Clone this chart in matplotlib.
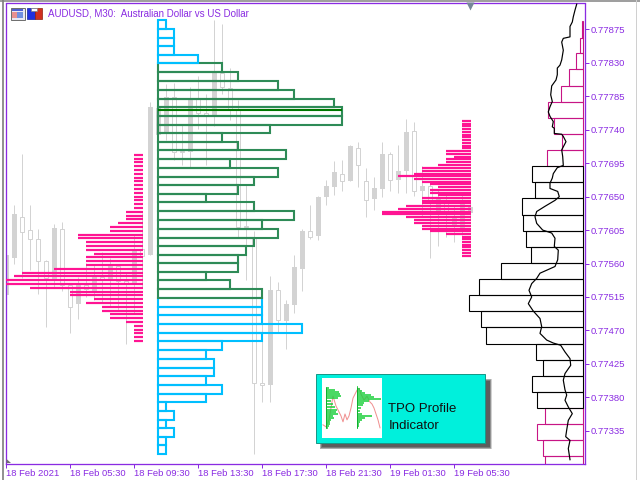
import matplotlib
matplotlib.use("Agg")
import matplotlib.pyplot as plt
from matplotlib.lines import Line2D
from matplotlib.patches import Rectangle, Polygon

W, H = 640, 480
PX = 72 / 100  # one pixel in points at dpi=100

PURPLE = "#8A2BE2"
CANDLE = "#D3D3D3"
PINK = "#FF1493"
BLUE = "#00BFFF"
GREEN = "#2E8B57"
POC = "#007800"
MAGENTA = "#C71585"

# candles, one per 30 minute bar
candle_open = [0.77571, 0.77627, 0.77603, 0.77593, 0.77564, 0.77540, 0.77608, 0.77531, 0.77502, 0.77531,
               0.77526, 0.77542, 0.77539, 0.77557, 0.77536, 0.77533, 0.77577, 0.77570, 0.77770, 0.77769,
               0.77784, 0.77710, 0.77710, 0.77782, 0.77763, 0.77760, 0.77816, 0.77797, 0.77767, 0.77609,
               0.77609, 0.77399, 0.77396, 0.77524, 0.77484, 0.77506, 0.77555, 0.77604, 0.77596, 0.77650,
               0.77664, 0.77683, 0.77671, 0.77718, 0.77693, 0.77646, 0.77661, 0.77707, 0.77672, 0.77684,
               0.77737, 0.77657, 0.77664, 0.77645, 0.77648, 0.77627, 0.77624, 0.77643, 0.77636]
candle_high = [0.77578, 0.77639, 0.77708, 0.77639, 0.77606, 0.77565, 0.77613, 0.77616, 0.77534, 0.77542,
               0.77561, 0.77558, 0.77575, 0.77568, 0.77558, 0.77547, 0.77598, 0.77628, 0.77778, 0.77779,
               0.77802, 0.77803, 0.77746, 0.77797, 0.77812, 0.77788, 0.77888, 0.77882, 0.77823, 0.77780,
               0.77666, 0.77604, 0.77514, 0.77543, 0.77535, 0.77511, 0.77571, 0.77606, 0.77639, 0.77651,
               0.77672, 0.77698, 0.77699, 0.77719, 0.77724, 0.77688, 0.77677, 0.77723, 0.77710, 0.77719,
               0.77754, 0.77751, 0.77691, 0.77668, 0.77659, 0.77652, 0.77639, 0.77652, 0.77641]
candle_low = [0.77511, 0.77560, 0.77540, 0.77551, 0.77519, 0.77475, 0.77528, 0.77523, 0.77467, 0.77485,
              0.77515, 0.77511, 0.77507, 0.77503, 0.77497, 0.77452, 0.77493, 0.77528, 0.77571, 0.77726,
              0.77726, 0.77699, 0.77692, 0.77690, 0.77741, 0.77692, 0.77745, 0.77788, 0.77753, 0.77596,
              0.77538, 0.77304, 0.77373, 0.77374, 0.77468, 0.77445, 0.77494, 0.77523, 0.77593, 0.77592,
              0.77639, 0.77652, 0.77657, 0.77671, 0.77663, 0.77622, 0.77632, 0.77650, 0.77657, 0.77655,
              0.77655, 0.77651, 0.77624, 0.77568, 0.77583, 0.77596, 0.77589, 0.77598, 0.77619]
candle_close = [0.77517, 0.77568, 0.77622, 0.77605, 0.77593, 0.77563, 0.77538, 0.77606, 0.77531, 0.77506,
                0.77531, 0.77522, 0.77542, 0.77539, 0.77556, 0.77536, 0.77531, 0.77579, 0.77571, 0.77733,
                0.77734, 0.77784, 0.77712, 0.77710, 0.77781, 0.77762, 0.77760, 0.77816, 0.77796, 0.77768,
                0.77610, 0.77596, 0.77399, 0.77396, 0.77524, 0.77483, 0.77504, 0.77553, 0.77604, 0.77597,
                0.77649, 0.77663, 0.77681, 0.77671, 0.77716, 0.77671, 0.77647, 0.77660, 0.77708, 0.77672,
                0.77684, 0.77738, 0.77657, 0.77664, 0.77628, 0.77645, 0.77612, 0.77608, 0.77628]

# left pink profile, ends at bar 17
left_levels = [0.77706, 0.77701, 0.77697, 0.77691, 0.77686, 0.77680, 0.77675, 0.77671, 0.77666, 0.77660,
               0.77655, 0.77649, 0.77645, 0.77640, 0.77635, 0.77629, 0.77624, 0.77620, 0.77615, 0.77609,
               0.77604, 0.77598, 0.77594, 0.77589, 0.77584, 0.77578, 0.77573, 0.77569, 0.77563, 0.77558,
               0.77553, 0.77547, 0.77543, 0.77538, 0.77532, 0.77527, 0.77522, 0.77518, 0.77512, 0.77507,
               0.77502, 0.77496, 0.77492, 0.77487, 0.77481, 0.77476, 0.77471, 0.77466, 0.77461, 0.77456]
left_counts = [1, 1, 1, 1, 1, 1, 1, 1, 1, 1, 1, 1, 1, 1, 1, 2, 2, 2, 3, 4, 4, 8, 8, 7, 7,
               7, 6, 7, 7, 7, 11, 15, 16, 17, 17, 14, 9, 9, 6, 7, 5, 5, 4, 4, 2, 1, 1, 1, 1, 1]

# middle outlined profile, starts at bar 19, 51 row edges top to bottom
mid_edges = [0.77888, 0.77875, 0.77864, 0.77853, 0.77841, 0.77830, 0.77818, 0.77806, 0.77794, 0.77782,
             0.77770, 0.77759, 0.77747, 0.77735, 0.77724, 0.77713, 0.77700, 0.77689, 0.77677, 0.77666,
             0.77654, 0.77643, 0.77631, 0.77619, 0.77607, 0.77595, 0.77584, 0.77572, 0.77561, 0.77549,
             0.77538, 0.77526, 0.77514, 0.77502, 0.77491, 0.77479, 0.77467, 0.77456, 0.77444, 0.77432,
             0.77420, 0.77409, 0.77397, 0.77385, 0.77374, 0.77362, 0.77350, 0.77339, 0.77327, 0.77316,
             0.77304]
mid_counts = [1, 2, 2, 2, 5,
              8, 10, 15, 17, 22, 23, 23, 14, 8, 10, 16, 9, 15, 12, 10, 6, 12, 17, 13, 15, 12, 11, 10, 10, 6, 9, 13,
              13, 13, 13, 18, 13, 8, 6, 7, 7, 6, 8, 6, 1, 2, 1, 2, 1, 1]
poc_price = 0.77766

# right pink profile, ends at bar 58
right_levels = [0.77752, 0.77748, 0.77745, 0.77741, 0.77737, 0.77733, 0.77730, 0.77726, 0.77722, 0.77718,
                0.77715, 0.77711, 0.77707, 0.77704, 0.77700, 0.77696, 0.77692, 0.77689, 0.77685, 0.77681,
                0.77678, 0.77674, 0.77670, 0.77667, 0.77663, 0.77659, 0.77655, 0.77652, 0.77648, 0.77644,
                0.77641, 0.77637, 0.77633, 0.77630, 0.77626, 0.77622, 0.77619, 0.77615, 0.77611, 0.77607,
                0.77604, 0.77600, 0.77596, 0.77593, 0.77589, 0.77585, 0.77582, 0.77578, 0.77574, 0.77570]
right_counts = [1, 1, 1, 1, 1, 1, 1, 1, 1, 1, 1, 3, 3, 2, 3, 3, 4, 6, 6, 7, 9, 7, 6, 5, 4,
                5, 5, 4, 6, 6, 6, 8, 9, 11, 11, 8, 7, 7, 6, 6, 5, 3, 1, 1, 1, 1, 1, 1, 1, 1]

# histogram on the right edge
hist_edges = [0.778863, 0.778639, 0.778429, 0.778213, 0.777985, 0.777769, 0.777554, 0.777339, 0.777123,
              0.776908, 0.776693, 0.776477, 0.776249, 0.776033, 0.775818, 0.775603, 0.775387, 0.775172,
              0.774957, 0.774742, 0.774513, 0.774298, 0.774082, 0.773867, 0.773652, 0.773436, 0.773221,
              0.773006, 0.772790]
hist_volume = [1, 3, 7, 14, 22, 35, 29, 21, 36,
               51, 48, 61, 60, 57, 52, 82, 104, 114, 102, 97, 47, 40, 51, 46,
               38, 46, 40, 38]

curve_volume = [6.6, 8.3, 10, 11, 13.3, 13.3, 20, 21.6, 20, 21.6, 23.3, 26, 26, 27.3, 31.6, 32.6, 31, 33.3, 35, 33.3,
                30, 31, 29, 29, 21.6, 20, 17.3, 20, 21.6, 20.6, 20, 26, 30, 31, 33.3, 33.3, 25.6, 24, 28.3, 38.3,
                46.6, 48.3, 46.6, 40.6, 31.6, 28.3, 29, 25, 25.6, 28.3, 36.6, 43.3, 46.6, 51.6, 54.3, 51.6, 55, 50,
                43.3, 41.6, 43.3, 36.6, 30, 22.6, 18.3, 13.3, 12.6, 18.3, 20, 18.3, 16.6, 18.3, 15, 11, 15, 16.6,
                17.6, 13.3, 15, 13.3]
curve_price = [0.77909, 0.77901, 0.77892, 0.77885, 0.77879, 0.77865, 0.77863, 0.77858, 0.77847, 0.77834,
               0.77827, 0.77823, 0.77814, 0.77807, 0.77799, 0.77787, 0.77778, 0.77771, 0.77764, 0.77758,
               0.77751, 0.77744, 0.77742, 0.77735, 0.77734, 0.77731, 0.77724, 0.77717, 0.77713, 0.77704,
               0.77692, 0.77689, 0.77681, 0.77675, 0.77668, 0.77661, 0.77657, 0.77650, 0.77645, 0.77637,
               0.77630, 0.77623, 0.77614, 0.77605, 0.77601, 0.77594, 0.77583, 0.77578, 0.77565, 0.77556,
               0.77551, 0.77547, 0.77540, 0.77533, 0.77524, 0.77515, 0.77506, 0.77496, 0.77486, 0.77475,
               0.77466, 0.77457, 0.77453, 0.77450, 0.77441, 0.77432, 0.77423, 0.77412, 0.77403, 0.77390,
               0.77383, 0.77376, 0.77367, 0.77358, 0.77349, 0.77336, 0.77327, 0.77322, 0.77311, 0.77296]

price_ticks = [0.77875, 0.77830, 0.77785, 0.77740, 0.77695, 0.77650, 0.77605, 0.77560, 0.77515, 0.77470,
               0.77425, 0.77380, 0.77335]
time_ticks = [0, 8, 16, 24, 32, 40, 48, 56]
time_labels = ["18 Feb 2021", "18 Feb 05:30", "18 Feb 09:30", "18 Feb 13:30", "18 Feb 17:30", "18 Feb 21:30",
               "19 Feb 01:30", "19 Feb 05:30"]

# thumbnail inside the info box
thumb_a_rows = [10, 12, 14, 16, 18, 20, 23, 26, 29, 32, 34, 36, 38, 40, 42, 44, 46, 48, 50]
thumb_a_len = [3, 9, 13, 14, 15, 12, 5, 7, 9, 11, 10, 12, 7, 8, 5, 4, 4, 3, 2]
thumb_b_rows = [9, 11, 13, 15, 17, 19, 21, 23, 25, 27, 30, 33, 36, 38, 40, 42, 44, 46, 48, 50]
thumb_b_len = [1, 3, 5, 8, 14, 17, 24, 12, 7, 6, 4, 3, 5, 15, 8, 5, 3, 2, 2, 1]
thumb_x = [1, 4, 7, 9, 11, 14, 17, 19, 21, 23, 25, 27, 29, 31, 33, 35, 37, 39, 42, 45, 48, 50, 52, 54, 56, 58]
thumb_y = [47, 49, 42, 30, 18, 28, 34, 38, 44, 36, 42, 38, 30, 20, 16, 12, 10, 16, 22, 18, 24, 26, 30, 36, 42, 50]

plt.rcParams['font.family'] = ['Liberation Sans', 'DejaVu Sans']

fig = plt.figure(figsize=(W / 100, H / 100), dpi=100, facecolor="white")


def px_rect(x0, y_top, x1, y_bottom):
    return [x0 / W, 1 - y_bottom / H, (x1 - x0) / W, (y_bottom - y_top) / H]


ax = fig.add_axes(px_rect(6, 3.5, 585, 463.5))
ax.set_xlim(-0.04, 72.34)
ax.set_ylim(0.772909, 0.779099)

# candles
bars = list(range(len(candle_open)))
ax.vlines(bars, candle_low, candle_high, color=CANDLE, lw=PX, zorder=1)
for i in bars:
    top = max(candle_open[i], candle_close[i])
    bottom = min(candle_open[i], candle_close[i])
    if candle_close[i] > candle_open[i]:
        ax.bar(i, top - bottom, bottom=bottom, width=0.5, facecolor="white", edgecolor=CANDLE, lw=PX, zorder=2)
    else:
        ax.bar(i, top - bottom, bottom=bottom, width=0.6, color=CANDLE, lw=0, zorder=2)

# pink profiles
ax.hlines(left_levels, [17 - c for c in left_counts], 17.05, color=PINK, lw=2.2 * PX, zorder=3)
ax.hlines(right_levels, [58 - c for c in right_counts], 58.05, color=PINK, lw=2.2 * PX, zorder=3)

# outlined profile, the two colours overlap at their shared edges
heights = [mid_edges[i] - mid_edges[i + 1] for i in range(len(mid_counts))]
centers = [(mid_edges[i] + mid_edges[i + 1]) / 2 for i in range(len(mid_counts))]
for part, color in ((range(32, 50), BLUE), (range(5, 32), GREEN), (range(0, 5), BLUE)):
    part = list(part)
    ax.barh([centers[i] for i in part], [mid_counts[i] for i in part], height=[heights[i] for i in part],
            left=18.96, facecolor="none", edgecolor=color, lw=2.1 * PX, zorder=4)
ax.hlines(poc_price, 18.96, 18.96 + 23, color=POC, lw=2.1 * PX, zorder=5)

# current bar marker on the top edge
ax.plot([58], [0.77906], marker="v", ms=5.5, color="#778899", mec="none", clip_on=False, zorder=6)

for s in ax.spines.values():
    s.set_color(PURPLE)
    s.set_linewidth(1.3 * PX)
ax.yaxis.tick_right()
ax.set_yticks(price_ticks)
ax.set_yticklabels(["%.5f" % p for p in price_ticks])
ax.set_xticks(time_ticks)
ax.set_xticklabels(time_labels, ha="left")
ax.tick_params(axis="y", colors=PURPLE, length=4 * PX, width=PX, pad=1.2, labelsize=6.8)
ax.tick_params(axis="x", colors=PURPLE, length=4 * PX, width=PX, pad=1.0, labelsize=6.8)

# histogram and curve share the right edge, volume runs leftwards
vol = ax.twiny()
vol.set_xlim(577.3, -1.7)
vol.axis("off")
vol.patch.set_visible(False)
hist_heights = [hist_edges[i] - hist_edges[i + 1] for i in range(len(hist_volume))]
hist_centers = [(hist_edges[i] + hist_edges[i + 1]) / 2 for i in range(len(hist_volume))]
for part, color in ((list(range(0, 9)) + list(range(24, 28)), MAGENTA), (range(9, 24), "black")):
    part = list(part)
    vol.barh([hist_centers[i] for i in part], [hist_volume[i] for i in part], height=[hist_heights[i] for i in part],
             facecolor="none", edgecolor=color, lw=1.1 * PX)
vol.plot(curve_volume, curve_price, color="black", lw=1.2 * PX, antialiased=True)

# overlay in pixels for window decoration
deco = fig.add_axes([0, 0, 1, 1], zorder=5)
deco.set_xlim(0, W)
deco.set_ylim(H, 0)
deco.axis("off")
deco.patch.set_visible(False)

fig.add_artist(Line2D([0, 1], [1 - 0.5 / H, 1 - 0.5 / H], color="#808080", lw=1.5 * PX))
fig.add_artist(Line2D([3.2 / W, 3.2 / W], [0, 1], color="#808080", lw=1.7 * PX))
fig.add_artist(Line2D([635.5 / W, 635.5 / W], [0, 1], color="#D0D0D0", lw=PX))

deco.add_patch(Polygon([(6.5, 459), (11, 463), (6.5, 463)], color="#707070", lw=0))

deco.text(47.5, 13.5, "AUDUSD, M30:  Australian Dollar vs US Dollar", color=PURPLE, fontsize=7, va="center", ha="left")

# chart window icons
deco.add_patch(Rectangle((10.5, 7.5), 14, 12, facecolor="#E8E8F4", edgecolor="#707070", lw=PX))
deco.add_patch(Rectangle((12, 9), 11, 2, facecolor="#5060D0", lw=0))
deco.add_patch(Rectangle((12, 12), 4.5, 6, facecolor="#E89090", lw=0))
deco.add_patch(Rectangle((17, 12), 6, 6, facecolor="#7090E0", lw=0))
deco.add_patch(Rectangle((27, 8), 7.5, 11, facecolor="#2030E0", edgecolor="#1020A0", lw=0.5))
deco.add_patch(Rectangle((34.7, 8), 7.5, 11, facecolor="#D03020", edgecolor="#902010", lw=0.5))
deco.add_patch(Rectangle((31, 8), 6, 2.5, facecolor="white", edgecolor="#808080", lw=0.5))

# info box with a blurred shadow
for k in range(6):
    deco.add_patch(Rectangle((320 + k * 0.4, 379 + k * 0.4), 171.5 - k * 0.8, 70 - k * 0.8,
                             facecolor="#303030", alpha=0.22, lw=0))
deco.add_patch(Rectangle((315.5, 373.5), 169, 69, facecolor="#00F0DC", edgecolor="#189888", lw=PX))
deco.text(388.3, 408.5, "TPO Profile", color="#101010", fontsize=9.5, va="center", ha="left")
deco.text(388.3, 426, "Indicator", color="#101010", fontsize=9.5, va="center", ha="left")

thumb = fig.add_axes(px_rect(322, 378.3, 382, 437.7), zorder=6)
thumb.set_xlim(0, 60)
thumb.set_ylim(60, 0)
thumb.set_xticks([])
thumb.set_yticks([])
for s in thumb.spines.values():
    s.set_visible(False)
thumb.plot(thumb_x, thumb_y, color="#F09090", lw=PX)
thumb.hlines(thumb_a_rows, 4, [4 + v for v in thumb_a_len], color="#20D040", lw=1.6 * PX)
thumb.hlines(thumb_b_rows, 35, [35 + v for v in thumb_b_len], color="#20D040", lw=1.6 * PX)
thumb.vlines([4, 35], 9, 50, color="#10B030", lw=PX)

fig.savefig("out.png", dpi=100)
